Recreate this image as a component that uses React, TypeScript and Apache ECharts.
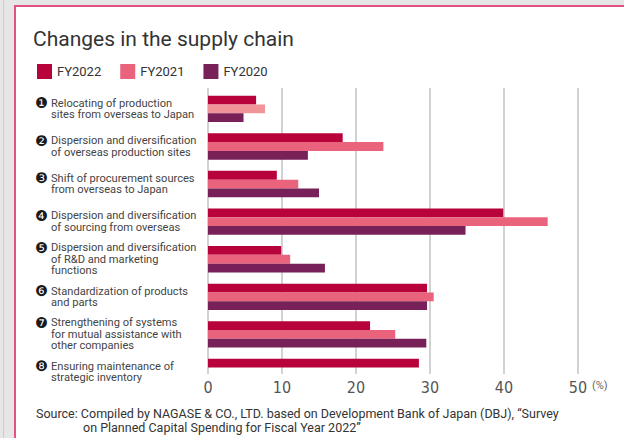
import React, { useEffect, useRef } from "react";
import * as echarts from "echarts";

const categories = [
  "Relocating of production\nsites from overseas to Japan",
  "Dispersion and diversification\nof overseas production sites",
  "Shift of procurement sources\nfrom overseas to Japan",
  "Dispersion and diversification\nof sourcing from overseas",
  "Dispersion and diversification\nof R&D and marketing\nfunctions",
  "Standardization of products\nand parts",
  "Strengthening of systems\nfor mutual assistance with\nother companies",
  "Ensuring maintenance of\nstrategic inventory",
];
const numbers = ["❶", "❷", "❸", "❹", "❺", "❻", "❼", "❽"];
const seriesNames = ["FY2022", "FY2021", "FY2020"];
const fy2022 = [6.5, 18.2, 9.3, 39.9, 9.9, 29.6, 21.9, 28.5];
const fy2021 = [7.7, 23.7, 12.2, 45.9, 11.1, 30.5, 25.3, null];
const fy2020 = [4.8, 13.5, 15.0, 34.8, 15.8, 29.6, 29.5, null];
const xTicks = [0, 10, 20, 30, 40, 50];
const colors = ["#b8023b", "#e8637b", "#772158"];

const title = "Changes in the supply chain";
const sourceLine1 =
  "Source: Compiled by NAGASE & CO., LTD. based on Development Bank of Japan (DBJ), \u201CSurvey";
const sourceLine2 = "on Planned Capital Spending for Fiscal Year 2022\u201D";

export default function App() {
  const ref = useRef<HTMLDivElement>(null);
  useEffect(() => {
    if (!ref.current) return;
    const chart = echarts.init(ref.current, undefined, { renderer: "svg" });
    const font = "Roboto, sans-serif";
    const option = {
      animation: false,
      backgroundColor: "transparent",
      title: {
        text: title,
        left: 33,
        top: 28,
        padding: 0,
        textStyle: { fontFamily: font, fontSize: 21, fontWeight: "normal", color: "#333" },
      },
      legend: {
        data: seriesNames,
        left: 37,
        top: 64,
        padding: 0,
        icon: "rect",
        itemWidth: 15,
        itemHeight: 15,
        itemGap: 19,
        textStyle: { fontFamily: font, fontSize: 13, color: "#333" },
      },
      grid: [
        { left: 208, width: 370, top: 90.1, height: 300.7, containLabel: false },
        { left: 208, width: 370, top: 88, height: 286, containLabel: false },
      ],
      xAxis: [
        {
          type: "value",
          gridIndex: 0,
          min: 0,
          max: 50,
          show: false,
        },
        {
          type: "value",
          gridIndex: 1,
          min: 0,
          max: 50,
          interval: 10,
          axisLine: { show: false },
          axisTick: { show: false },
          splitLine: { show: true, lineStyle: { color: "#d2d2d2", width: 2 } },
          axisLabel: {
            margin: 5,
            fontFamily: '"Liberation Sans Narrow", "DejaVu Sans Condensed", Roboto, sans-serif',
            fontSize: 16,
            color: "#555",
            formatter: (v: number) => (xTicks.includes(v) ? String(v) : ""),
          },
        },
      ],
      yAxis: [
        {
          type: "category",
          gridIndex: 0,
          data: categories,
          inverse: true,
          axisLine: { show: false },
          axisTick: { show: false },
          axisLabel: {
            align: "left",
            margin: 173,
            formatter: (value: string, index: number) => {
              const lines = value.split("\n");
              return lines
                .map((l, i) => (i === 0 ? `{n|${numbers[index]}}{t|${l}}` : `{p| }{t|${l}}`))
                .join("\n");
            },
            rich: {
              n: { width: 16, fontFamily: "DejaVu Sans", fontSize: 14.5, color: "#1a1a1a", lineHeight: 11.5 },
              p: { width: 16, fontSize: 11, lineHeight: 11.5 },
              t: { fontFamily: font, fontSize: 11.1, color: "#444", lineHeight: 11.5 },
            },
          },
        },
        { type: "value", gridIndex: 1, show: false },
      ],
      series: [
        {
          name: seriesNames[0],
          type: "bar",
          xAxisIndex: 0,
          yAxisIndex: 0,
          data: fy2022,
          barWidth: 8.8,
          barGap: "0%",
          itemStyle: { color: colors[0] },
        },
        {
          name: seriesNames[1],
          type: "bar",
          xAxisIndex: 0,
          yAxisIndex: 0,
          data: fy2021.map((v, i) => (i === 0 ? { value: v, itemStyle: { color: "#f09499" } } : v)),
          barWidth: 8.8,
          barGap: "0%",
          itemStyle: { color: colors[1] },
        },
        {
          name: seriesNames[2],
          type: "bar",
          xAxisIndex: 0,
          yAxisIndex: 0,
          data: fy2020,
          barWidth: 8.8,
          barGap: "0%",
          itemStyle: { color: colors[2] },
        },
        {
          type: "bar",
          xAxisIndex: 1,
          yAxisIndex: 1,
          data: [],
        },
      ],
      graphic: [
        {
          type: "text",
          left: 592,
          top: 380,
          style: { text: "(%)", fontFamily: font, fontSize: 11, fill: "#666" },
        },
        {
          type: "text",
          left: 36,
          top: 407,
          style: { text: sourceLine1, fontFamily: font, fontSize: 12.5, lineHeight: 13, fill: "#333" },
        },
        {
          type: "text",
          left: 83,
          top: 421,
          style: { text: sourceLine2, fontFamily: font, fontSize: 12.5, lineHeight: 13, fill: "#333" },
        },
      ],
    };
    chart.setOption(option as any);
    return () => chart.dispose();
  }, []);

  return (
    <div
      style={{
        position: "fixed",
        left: 0,
        top: 0,
        width: 624,
        height: 438,
        background: "#e6e6e6",
        overflow: "hidden",
      }}
    >
      <div style={{ position: "absolute", left: 3, top: 0, width: 1, height: 438, background: "#cdcdcd" }} />
      <div
        style={{
          position: "absolute",
          left: 14,
          top: 5,
          right: 0,
          bottom: 0,
          background: "#ffffff",
          borderLeft: "2px solid #e2547f",
          borderTop: "2px solid #e2547f",
        }}
      />
      <div ref={ref} style={{ position: "absolute", left: 0, top: 0, width: 624, height: 438 }} />
    </div>
  );
}
